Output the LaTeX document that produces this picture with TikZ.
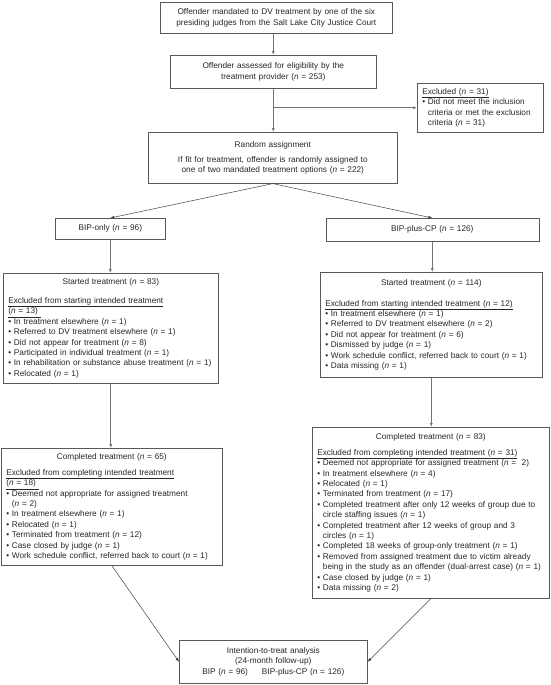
\documentclass[tikz,border=0pt]{standalone}
\usepackage{fontspec}
\setmainfont{Liberation Sans}
\usetikzlibrary{arrows.meta,calc}
\newcommand{\nval}[1]{(\textit{n} = #1)}
\newcommand{\bul}{\textbullet\ }
\newcommand{\bind}{\phantom{\textbullet\ }}
\tikzset{
  box/.style={draw=black!65, line width=0.6pt, anchor=north west, inner xsep=5pt, inner ysep=0pt,
    text=black!85, font=\fontsize{8.25}{10.4}\selectfont},
  arr/.style={draw=black!55, line width=0.7pt, -{Latex[length=4pt,width=3pt]}},
  darr/.style={draw=black!75, line width=0.5pt, -{Latex[length=4pt,width=3pt]}},
}
\begin{document}
\begin{tikzpicture}[x=1pt,y=-1pt]
\useasboundingbox (0,0) rectangle (551,685);

\node[box, minimum width=232pt, minimum height=31pt, text width=222pt, align=center,
  font=\fontsize{8.25}{11}\selectfont] (b1) at (160,2)
  {Offender mandated to DV treatment by one of the six\\presiding judges from the Salt Lake City Justice Court};

\node[box, minimum width=206pt, minimum height=33pt, text width=196pt, align=center,
  font=\fontsize{8.25}{11}\selectfont] (b2) at (170,55)
  {Offender assessed for eligibility by the\\treatment provider \nval{253}};

\node[box, minimum width=126pt, minimum height=49pt, text width=116pt, align=left] (ex) at (417,83)
  {\underline{Excluded \nval{31}}\\\bul Did not meet the inclusion\\\bind criteria or met the exclusion\\\bind criteria \nval{31}};

\node[box, minimum width=249pt, minimum height=51pt, text width=239pt, align=center] (ra) at (148,132)
  {Random assignment\\[5pt]If fit for treatment, offender is randomly assigned to\\one of two mandated treatment options \nval{222}};

\node[box, minimum width=110pt, minimum height=21pt, text width=100pt, align=center] (bo) at (55,218)
  {BIP-only \nval{96}};

\node[box, minimum width=213pt, minimum height=23pt, text width=203pt, align=center] (bc) at (325.5,218)
  {BIP-plus-CP \nval{126}};

\node[box, minimum width=215pt, minimum height=110pt, text width=205pt] (s1) at (3,273)
  {\centering Started treatment \nval{83}\par\vspace{8.5pt}\raggedright
   \underline{Excluded from starting intended treatment}\\
   \underline{\nval{13}\ }\\
   \bul In treatment elsewhere \nval{1}\\
   \bul Referred to DV treatment elsewhere \nval{1}\\
   \bul Did not appear for treatment \nval{8}\\
   \bul Participated in individual treatment \nval{1}\\
   \mbox{\bul In rehabilitation or substance abuse treatment \nval{1}}\\
   \bul Relocated \nval{1}\par};

\node[box, minimum width=222pt, minimum height=105pt, text width=212pt] (s2) at (320,272)
  {\centering Started treatment \nval{114}\par\vspace{10.5pt}\raggedright
   \underline{Excluded from starting intended treatment \nval{12}}\\
   \bul In treatment elsewhere \nval{1}\\
   \bul Referred to DV treatment elsewhere \nval{2}\\
   \bul Did not appear for treatment \nval{6}\\
   \bul Dismissed by judge \nval{1}\\
   \bul Work schedule conflict, referred back to court \nval{1}\\
   \bul Data missing \nval{1}\par};

\node[box, minimum width=221pt, minimum height=117pt, text width=211pt] (c1) at (1,448)
  {\centering Completed treatment \nval{65}\par\vspace{5.5pt}\raggedright
   \underline{Excluded from completing intended treatment}\\
   \underline{\nval{18}\ }\\
   \bul Deemed not appropriate for assigned treatment\\
   \bind \nval{2}\\
   \bul In treatment elsewhere \nval{1}\\
   \bul Relocated \nval{1}\\
   \bul Terminated from treatment \nval{12}\\
   \bul Case closed by judge \nval{1}\\
   \mbox{\bul Work schedule conflict, referred back to court \nval{1}}\par};

\node[box, minimum width=237pt, minimum height=171pt, text width=227pt] (c2) at (312,427)
  {\centering Completed treatment \nval{83}\par\vspace{5.5pt}\raggedright
   \underline{Excluded from completing intended treatment \nval{31}}\\
   \mbox{\bul Deemed not appropriate for assigned treatment (\textit{n} = \ 2)}\\
   \bul In treatment elsewhere \nval{4}\\
   \bul Relocated \nval{1}\\
   \bul Terminated from treatment \nval{17}\\
   \mbox{\bul Completed treatment after only 12 weeks of group due to}\\
   \bind circle staffing issues \nval{1}\\
   \bul Completed treatment after 12 weeks of group and 3\\
   \bind circles \nval{1}\\
   \bul Completed 18 weeks of group-only treatment \nval{1}\\
   \mbox{\bul Removed from assigned treatment due to victim already}\\
   \mbox{\bind being in the study as an offender (dual-arrest case) \nval{1}}\\
   \bul Case closed by judge \nval{1}\\
   \bul Data missing \nval{2}\par};

\node[box, minimum width=188pt, minimum height=43pt, text width=178pt, align=center] (it) at (179,640)
  {Intention-to-treat analysis\\(24-month follow-up)\\BIP \nval{96}\hspace{14pt}BIP-plus-CP \nval{126}};

\draw[arr] (b1.south -| b2.north) -- (b2.north);
\draw[arr] (b2.south) -- (b2.south |- ra.north);
\coordinate (br) at (b2.south |- ex.west);
\draw[arr] (br) -- (ex.west);
\draw[darr] (ra.south) -- (bo.north);
\draw[darr] (ra.south) -- (bc.north);
\draw[arr] (bo.south) -- (bo.south |- s1.north);
\draw[arr] (s1.south) -- (s1.south |- c1.north);
\draw[arr] (bc.south) -- (bc.south |- s2.north);
\draw[arr] (s2.south) -- (s2.south |- c2.north);
\draw[darr] (c1.south) -- (it.west);
\draw[darr] (c2.south) -- (it.east);
\end{tikzpicture}
\end{document}
